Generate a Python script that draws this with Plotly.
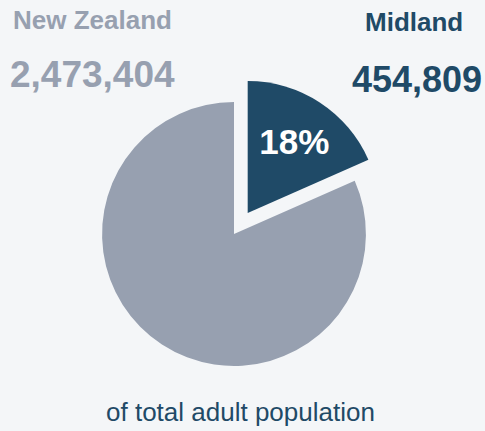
import plotly.graph_objects as go

regions = ["Midland", "Rest of New Zealand"]
nz_total = 2473404
midland = 454809
values = [midland, nz_total - midland]
colors = ["#1f4a67", "#97a0b0"]

W, H = 485, 431
pull = 0.19
cx, cy = 234, 234   # pixel centre (from top)
half = 157
dom_x = [(cx - half) / W, (cx + half) / W]
dom_y = [(H - cy - half) / H, (H - cy + half) / H]

fig = go.Figure(go.Pie(
    labels=regions,
    values=values,
    marker=dict(colors=colors, line=dict(width=0)),
    sort=False,
    direction="clockwise",
    rotation=0,
    pull=[pull, 0],
    texttemplate=["<b>%{percent:.0%}</b>", ""],
    textposition="inside",
    insidetextorientation="horizontal",
    insidetextfont=dict(family="Liberation Sans", size=35, color="white"),
    hoverinfo="label+value+percent",
    showlegend=False,
    domain=dict(x=dom_x, y=dom_y),
))

font = "Liberation Sans"
ann = [
    dict(text="<b>New Zealand</b>", x=92 / W, y=1 - 20 / H, font=dict(size=26, color="#97a0b0", family=font)),
    dict(text="<b>" + f"{nz_total:,}" + "</b>", x=92 / W, y=1 - 74 / H, font=dict(size=37, color="#97a0b0", family=font)),
    dict(text="<b>Midland</b>", x=414 / W, y=1 - 22 / H, font=dict(size=26, color="#1f4a67", family=font)),
    dict(text="<b>" + f"{midland:,}" + "</b>", x=484 / W, y=1 - 79 / H, font=dict(size=36, color="#1f4a67", family=font), xanchor="right"),
    dict(text="of total adult population", x=240 / W, y=1 - 412 / H, font=dict(size=26, color="#1f4a67", family=font)),
]
for a in ann:
    a.setdefault("xanchor", "center")
    a.update(xref="paper", yref="paper", showarrow=False, yanchor="middle")

fig.update_layout(
    width=W, height=H,
    margin=dict(l=0, r=0, t=0, b=0),
    paper_bgcolor="#f4f6f8",
    plot_bgcolor="#f4f6f8",
    annotations=ann,
)
fig.write_html(
    "out.html",
    config={"displayModeBar": False},
    post_script="document.body.style.margin='0';document.body.style.background='#f4f6f8';",
)
